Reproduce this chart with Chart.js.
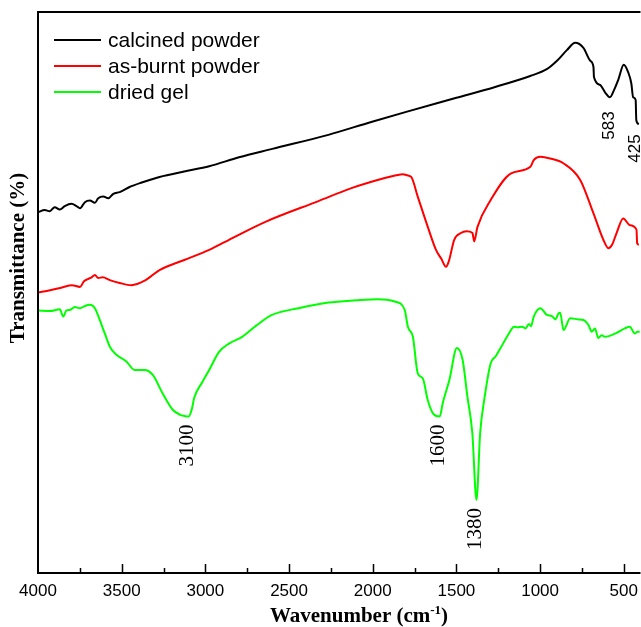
<!DOCTYPE html>
<html lang="en">
<head>
  <meta charset="UTF-8">
  <title>FTIR spectra</title>
  <script src="https://cdn.jsdelivr.net/npm/chart.js@4"></script>
  <style>
    html, body { margin: 0; padding: 0; background: #fff; overflow: hidden; }
    #wrap { width: 646px; height: 627px; }
  </style>
</head>
<body>
<div id="wrap"><canvas id="ftirChart"></canvas></div>
<script>
  // Spectra: wavenumber (cm-1) and transmittance (arbitrary offset, %)
  const seriesNames = ['calcined powder', 'as-burnt powder', 'dried gel'];
  const seriesColors = ['#000000', '#ff0000', '#00ff00'];

  const wnCalcined = [4000, 3960, 3930, 3900, 3870, 3840, 3800, 3770, 3749, 3720, 3690, 3660, 3640, 3610, 3580,
    3550, 3512, 3453, 3380, 3274, 3120, 2977, 2799, 2600, 2265, 2009, 1800, 1500, 1273, 1059, 960, 899, 840, 790,
    741, 700, 681, 678, 642, 610, 583, 555, 533, 500, 474, 455, 444, 429, 425, 410];
  const tCalcined = [64.3, 64.7, 64.5, 65.2, 64.8, 65.4, 65.8, 65.4, 65.0, 66.1, 66.4, 66.0, 66.8, 67.1, 66.8,
    67.6, 67.9, 68.8, 69.6, 70.6, 71.6, 72.5, 74.1, 75.6, 78.1, 80.4, 82.2, 84.7, 86.6, 88.6, 89.8, 91.3, 93.2, 94.5,
    93.6, 91.3, 90.2, 88.4, 87.0, 85.6, 84.8, 86.3, 87.9, 90.6, 89.3, 87.3, 84.8, 84.3, 80.7, 80.0];

  const wnBurnt = [4000, 3928, 3856, 3797, 3749, 3725, 3702, 3680, 3660, 3640, 3613, 3571, 3512, 3442, 3363,
    3274, 3126, 2977, 2839, 2641, 2324, 2127, 1928, 1860, 1820, 1795, 1770, 1731, 1671, 1622, 1590, 1562, 1545,
    1513, 1473, 1440, 1404, 1394, 1374, 1295, 1176, 1058, 1038, 999, 940, 859, 761, 681, 622, 592, 570, 543, 503,
    464, 424, 420, 410];
  const tBurnt = [50.0, 50.4, 50.9, 51.3, 51.0, 52.0, 52.4, 52.7, 53.1, 52.6, 52.7, 52.2, 51.7, 51.3, 52.1,
    54.0, 55.8, 57.6, 59.7, 62.6, 66.3, 68.6, 70.4, 70.9, 71.1, 70.9, 70.6, 67.1, 61.7, 57.6, 56.0, 54.6, 55.6,
    59.4, 60.6, 60.9, 60.6, 59.1, 61.7, 66.5, 71.2, 72.4, 73.6, 74.2, 73.9, 73.0, 70.1, 64.1, 59.4, 57.9, 58.5, 60.6, 63.2,
    62.0, 61.2, 58.8, 58.5];

  const wnGel = [4000, 3928, 3870, 3849, 3830, 3809, 3780, 3749, 3720, 3690, 3660, 3631, 3601, 3570, 3531,
    3472, 3423, 3363, 3314, 3255, 3195, 3150, 3125, 3100, 3080, 3067, 3017, 2977, 2918, 2859, 2780, 2700, 2602,
    2443, 2265, 2100, 1968, 1869, 1809, 1790, 1760, 1731, 1701, 1671, 1636, 1600, 1580, 1542, 1497, 1463, 1434,
    1405, 1380, 1358, 1334, 1295, 1266, 1236, 1186, 1156, 1137, 1107, 1087, 1067, 1054, 1038, 998, 959, 929, 909,
    889, 880, 860, 820, 770, 741, 711, 691, 672, 652, 632, 612, 543, 494, 464, 434, 418, 405];
  const tGel = [46.8, 46.7, 47.0, 45.7, 46.8, 46.9, 47.4, 47.2, 47.6, 47.8, 47.2, 45.1, 42.7, 40.3, 38.9,
    37.7, 36.2, 36.2, 35.3, 32.0, 29.1, 28.2, 28.0, 27.9, 29.3, 31.2, 34.1, 36.2, 39.4, 40.9, 42.1, 44.0, 46.0,
    47.2, 48.2, 48.6, 48.8, 48.4, 46.9, 43.9, 42.1, 35.6, 34.7, 30.8, 28.3, 27.9, 30.5, 34.4, 40.1, 38.0, 31.4,
    25.0, 13.0, 25.0, 30.8, 37.4, 38.6, 40.1, 42.7, 43.9, 43.8, 43.9, 43.6, 44.4, 44.0, 45.7, 47.2, 46.0, 45.8, 45.2,
    46.3, 46.4, 43.3, 45.4, 45.2, 45.1, 44.2, 43.0, 43.6, 41.9, 42.4, 42.1, 42.8, 43.6, 43.9, 42.7, 43.0, 43.0];

  // Band assignments written next to the curves
  const peakLabels = ['3100', '1600', '1380', '583', '425'];
  const peakWn = [3100, 1600, 1380, 583, 425];
  const peakSeries = [2, 2, 2, 0, 0];

  const xTicks = [4000, 3500, 3000, 2500, 2000, 1500, 1000, 500];
  const xMinorStep = 250;

  const toPoints = (xs, ys) => xs.map((v, i) => ({ x: v, y: ys[i] }));
  const spectra = [[wnCalcined, tCalcined], [wnBurnt, tBurnt], [wnGel, tGel]];

  // Frame, inward ticks, axis titles and legend
  const framePlugin = {
    id: 'frame',
    afterDraw(chart) {
      const { ctx, chartArea: a, scales: { x } } = chart;
      ctx.save();
      ctx.strokeStyle = '#000';
      ctx.lineWidth = 2;
      ctx.beginPath();
      ctx.moveTo(a.left, a.bottom); ctx.lineTo(a.left, a.top); ctx.lineTo(a.right, a.top);
      ctx.moveTo(a.left - 1, a.bottom); ctx.lineTo(a.right, a.bottom);
      ctx.stroke();

      ctx.lineWidth = 1.5;
      ctx.beginPath();
      for (let v = x.max - xMinorStep; v >= x.min; v -= xMinorStep) {
        const px = Math.round(x.getPixelForValue(v)) + 0.5;
        const len = xTicks.includes(v) ? 9 : 5;
        ctx.moveTo(px, a.bottom);
        ctx.lineTo(px, a.bottom - len);
      }
      ctx.stroke();

      ctx.fillStyle = '#000';
      // x title with superscript
      ctx.font = 'bold 21px "Liberation Serif"';
      const t1 = 'Wavenumber (cm', t3 = ')';
      const w1 = ctx.measureText(t1).width, w3 = ctx.measureText(t3).width;
      ctx.font = 'bold 13px "Liberation Serif"';
      const w2 = ctx.measureText('-1').width;
      let tx = 359 - (w1 + w2 + w3) / 2;
      const ty = 622;
      ctx.textBaseline = 'alphabetic';
      ctx.font = 'bold 21px "Liberation Serif"';
      ctx.fillText(t1, tx, ty);
      ctx.font = 'bold 13px "Liberation Serif"';
      ctx.fillText('-1', tx + w1, ty - 8);
      ctx.font = 'bold 21px "Liberation Serif"';
      ctx.fillText(t3, tx + w1 + w2, ty);

      // y title
      ctx.save();
      ctx.translate(19, 258);
      ctx.rotate(-Math.PI / 2);
      ctx.textAlign = 'center';
      ctx.textBaseline = 'middle';
      ctx.fillText('Transmittance (%)', 0, 0);
      ctx.restore();

      // legend
      ctx.font = '21px "Liberation Sans"';
      ctx.textBaseline = 'middle';
      chart.data.datasets.forEach((ds, i) => {
        const ly = 40 + i * 26;
        ctx.strokeStyle = ds.borderColor;
        ctx.lineWidth = 2;
        ctx.beginPath();
        ctx.moveTo(54, ly); ctx.lineTo(101, ly);
        ctx.stroke();
        ctx.fillStyle = '#000';
        ctx.fillText(ds.label, 108, ly + 1);
      });
      ctx.restore();
    }
  };

  const peakPlugin = {
    id: 'peakMarks',
    afterDatasetsDraw(chart) {
      const { ctx, scales: { x, y } } = chart;
      peakLabels.forEach((txt, i) => {
        const pt = chart.data.datasets[peakSeries[i]].data.find(p => p.x === peakWn[i]);
        const serif = peakSeries[i] === 2;
        ctx.save();
        ctx.font = serif ? '21px "Liberation Serif"' : '17px "Liberation Sans"';
        const w = ctx.measureText(txt).width;
        const gap = serif ? 8 : 14;
        ctx.translate(x.getPixelForValue(pt.x) - 1, y.getPixelForValue(pt.y) + gap + w / 2);
        ctx.rotate(-Math.PI / 2);
        ctx.textAlign = 'center';
        ctx.textBaseline = 'middle';
        ctx.fillStyle = '#000';
        ctx.fillText(txt, 0, 0);
        ctx.restore();
      });
    }
  };

  new Chart(document.getElementById('ftirChart'), {
    type: 'line',
    data: {
      datasets: spectra.map((s, i) => ({
        label: seriesNames[i],
        data: toPoints(s[0], s[1]),
        borderColor: seriesColors[i],
        borderWidth: 2,
        borderJoinStyle: 'round',
        pointRadius: 0,
        cubicInterpolationMode: 'monotone',
        fill: false
      }))
    },
    options: {
      responsive: true,
      maintainAspectRatio: false,
      animation: false,
      layout: { padding: { left: 38, right: 2, top: 12, bottom: 0 } },
      plugins: { legend: { display: false }, tooltip: { enabled: false } },
      scales: {
        x: {
          type: 'linear',
          reverse: true,
          min: 400,
          max: 4000,
          grid: { display: false, drawTicks: false },
          border: { display: false },
          afterBuildTicks(scale) { scale.ticks = xTicks.map(v => ({ value: v })); },
          ticks: {
            autoSkip: false,
            maxRotation: 0,
            padding: 8,
            color: '#000',
            font: { family: 'Liberation Sans', size: 17 },
            callback: v => String(v)
          },
          afterFit(scale) { scale.height = 54; }
        },
        y: { display: false, min: 0, max: 100 }
      }
    },
    plugins: [framePlugin, peakPlugin]
  });
</script>
</body>
</html>
